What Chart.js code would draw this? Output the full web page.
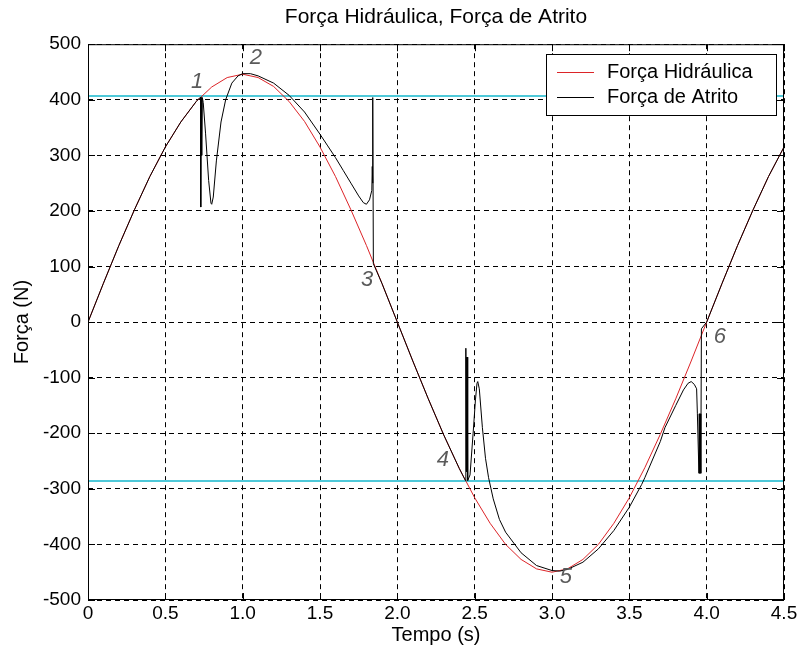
<!DOCTYPE html>
<html>
<head>
<meta charset="utf-8">
<title>Força Hidráulica, Força de Atrito</title>
<script src="https://cdn.jsdelivr.net/npm/chart.js@4/dist/chart.umd.min.js"></script>
<style>
  html, body { margin: 0; padding: 0; background: #fff; }
  canvas { display: block; }
</style>
</head>
<body>
<canvas id="grafico" width="803" height="652"></canvas>
<script>
// --- Dados ---
const tempoHidraulica = [
  0, 0.1, 0.2, 0.3, 0.4, 0.5, 0.6, 0.7, 0.8, 0.9,
  1.0, 1.1, 1.2, 1.3, 1.4, 1.5, 1.6, 1.7, 1.8, 1.9,
  2.0, 2.1, 2.2, 2.3, 2.4, 2.5, 2.6, 2.7, 2.8, 2.9,
  3.0, 3.1, 3.2, 3.3, 3.4, 3.5, 3.6, 3.7, 3.8, 3.9,
  4.0, 4.1, 4.2, 4.3, 4.4, 4.5
];
const forcaHidraulica = [
  0, 70, 138, 202, 262, 315, 360, 397, 423, 440,
  446, 440, 424, 397, 361, 315, 262, 202, 138, 70,
  0, -70, -138, -203, -263, -316, -362, -400, -427, -444,
  -450, -444, -427, -400, -362, -316, -262, -202, -138, -70,
  0, 70, 138, 202, 262, 315
];

// força de atrito: segue a hidráulica e descola nos pontos 1..6
const tempoAtrito = [
  0, 0.1, 0.2, 0.3, 0.4, 0.5, 0.6, 0.7, 0.72,
  0.728, 0.729, 0.731, 0.733, 0.735, 0.737, 0.739, 0.745,
  0.76, 0.78, 0.795, 0.80, 0.81, 0.83, 0.86, 0.89, 0.93, 0.97,
  1.0, 1.05, 1.1, 1.2, 1.3, 1.4, 1.5, 1.55, 1.6, 1.65, 1.7, 1.75, 1.78, 1.80, 1.82,
  1.835, 1.838, 1.840, 1.842, 1.845,
  1.9, 2.0, 2.1, 2.2, 2.3, 2.4, 2.44,
  2.443, 2.446, 2.448, 2.45, 2.452, 2.455,
  2.47, 2.49, 2.505, 2.515, 2.52, 2.53, 2.55, 2.57, 2.59, 2.62, 2.66, 2.7,
  2.8, 2.9, 3.0, 3.05, 3.1, 3.2, 3.3, 3.4, 3.5, 3.58, 3.6, 3.7, 3.73,
  3.8, 3.85, 3.88, 3.9, 3.92, 3.935,
  3.94, 3.95, 3.952, 3.955, 3.958, 3.962, 3.966,
  4.0, 4.1, 4.2, 4.3, 4.4, 4.5
];
const forcaAtrito = [
  0, 70, 138, 202, 262, 315, 360, 397, 403,
  404, 207, 404, 300, 404, 300, 404, 395,
  340, 255, 214, 212, 225, 290, 360, 400, 430, 443,
  447, 447, 443, 430, 408, 378, 338, 317, 296, 273, 250, 227, 215, 212, 220,
  237, 280, 250, 404, 105,
  70, 0, -70, -138, -203, -263, -285,
  -47, -269, -63, -269, -63, -285,
  -275, -200, -140, -110, -107, -120, -190, -245, -280, -318, -355, -378,
  -415, -438, -447, -448, -445, -432, -408, -375, -333, -292, -280, -215, -190,
  -150, -122, -110, -107, -112, -120,
  -165, -272, -165, -272, -165, -272, -12,
  0, 70, 138, 202, 262, 315
];

// níveis de referência (linhas ciano)
const nivelSuperior = 407;
const nivelInferior = -286;

// marcadores numerados
const marcaTexto = ['1', '2', '3', '4', '5', '6'];
const marcaTempo = [0.705, 1.085, 1.805, 2.295, 3.09, 4.085];
const marcaForca = [432, 475, 76, -248, -458, -27];

const xTicks = [0, 0.5, 1, 1.5, 2, 2.5, 3, 3.5, 4, 4.5];
const yTicks = [-500, -400, -300, -200, -100, 0, 100, 200, 300, 400, 500];

const FONTE = 'Liberation Sans, Arial, sans-serif';

const pontos = (ts, fs) => ts.map((t, i) => ({ x: t, y: fs[i] }));
const nivel = v => [{ x: xTicks[0], y: v }, { x: xTicks[xTicks.length - 1], y: v }];

// Moldura estilo MATLAB: caixa, marcas internas, legenda e números
const moldura = {
  id: 'moldura',
  afterDatasetsDraw(chart) {
    const { ctx, chartArea: a, scales: { x, y } } = chart;
    const tick = 7;
    ctx.save();
    ctx.strokeStyle = '#000';
    ctx.lineWidth = 1;
    ctx.setLineDash([]);
    ctx.beginPath();
    xTicks.forEach(v => {
      const px = Math.round(x.getPixelForValue(v)) + 0.5;
      ctx.moveTo(px, a.bottom); ctx.lineTo(px, a.bottom - tick);
      ctx.moveTo(px, a.top); ctx.lineTo(px, a.top + tick);
    });
    yTicks.forEach(v => {
      const py = Math.round(y.getPixelForValue(v)) + 0.5;
      ctx.moveTo(a.left, py); ctx.lineTo(a.left + tick, py);
      ctx.moveTo(a.right, py); ctx.lineTo(a.right - tick, py);
    });
    ctx.stroke();
    ctx.strokeRect(a.left + 0.5, a.top + 0.5, a.right - a.left - 1, a.bottom - a.top - 1);

    // legenda
    const lx = 546, ly = 54, lw = 230, lh = 61;
    ctx.fillStyle = '#fff';
    ctx.fillRect(lx, ly, lw, lh);
    ctx.strokeRect(lx + 0.5, ly + 0.5, lw, lh);
    const itens = chart.data.datasets.filter(d => d.label);
    itens.forEach((d, i) => {
      const cy = ly + 18 + i * 25;
      ctx.strokeStyle = d.borderColor;
      ctx.beginPath();
      ctx.moveTo(lx + 11, cy + 0.5);
      ctx.lineTo(lx + 48, cy + 0.5);
      ctx.stroke();
      ctx.fillStyle = '#000';
      ctx.font = '20px ' + FONTE;
      ctx.textBaseline = 'middle';
      ctx.textAlign = 'left';
      ctx.fillText(d.label, lx + 61, cy);
    });

    // números dos pontos
    ctx.fillStyle = '#5a5a5a';
    ctx.font = 'italic 22px ' + FONTE;
    ctx.textAlign = 'center';
    ctx.textBaseline = 'middle';
    marcaTexto.forEach((txt, i) => {
      ctx.fillText(txt, x.getPixelForValue(marcaTempo[i]), y.getPixelForValue(marcaForca[i]));
    });
    ctx.restore();
  }
};

const eixoComum = {
  type: 'linear',
  grid: { color: '#000', lineWidth: 1, drawTicks: false },
  border: { display: false, dash: [5, 4] },
  ticks: { color: '#000', font: { family: FONTE, size: 19 } }
};

new Chart(document.getElementById('grafico'), {
  type: 'line',
  data: {
    datasets: [
      {
        label: 'Força Hidráulica',
        data: pontos(tempoHidraulica, forcaHidraulica),
        borderColor: '#dc2428',
        borderWidth: 1,
        order: 2
      },
      {
        label: 'Força de Atrito',
        data: pontos(tempoAtrito, forcaAtrito),
        borderColor: '#000000',
        borderWidth: 1,
        order: 1
      },
      { data: nivel(nivelSuperior), borderColor: '#4fc9d9', borderWidth: 2, order: 3 },
      { data: nivel(nivelInferior), borderColor: '#4fc9d9', borderWidth: 2, order: 3 }
    ]
  },
  options: {
    responsive: false,
    animation: false,
    devicePixelRatio: 1,
    layout: { padding: { left: 0, right: 19, top: 0, bottom: 0 } },
    elements: { point: { radius: 0 }, line: { tension: 0 } },
    plugins: {
      legend: { display: false },
      tooltip: { enabled: false },
      title: {
        display: true,
        fullSize: false,
        text: 'Força Hidráulica, Força de Atrito',
        color: '#000',
        font: { family: FONTE, size: 21, weight: 'normal' },
        padding: { top: 5, bottom: 14 }
      }
    },
    scales: {
      x: {
        ...eixoComum,
        min: 0, max: 4.5,
        ticks: { ...eixoComum.ticks, stepSize: 0.5, padding: 2, maxRotation: 0 },
        title: {
          display: true, text: 'Tempo (s)', color: '#000',
          font: { family: FONTE, size: 20 }, padding: { top: 0, bottom: 5 }
        },
        afterFit: s => { s.height = 52; }
      },
      y: {
        ...eixoComum,
        min: -500, max: 500,
        ticks: { ...eixoComum.ticks, stepSize: 100, padding: 7 },
        title: {
          display: true, text: 'Força (N)', color: '#000',
          font: { family: FONTE, size: 20 }, padding: { top: 10, bottom: 0 }
        },
        afterFit: s => { s.height = s.height; s.width = 88; }
      }
    }
  },
  plugins: [moldura]
});
</script>
</body>
</html>
